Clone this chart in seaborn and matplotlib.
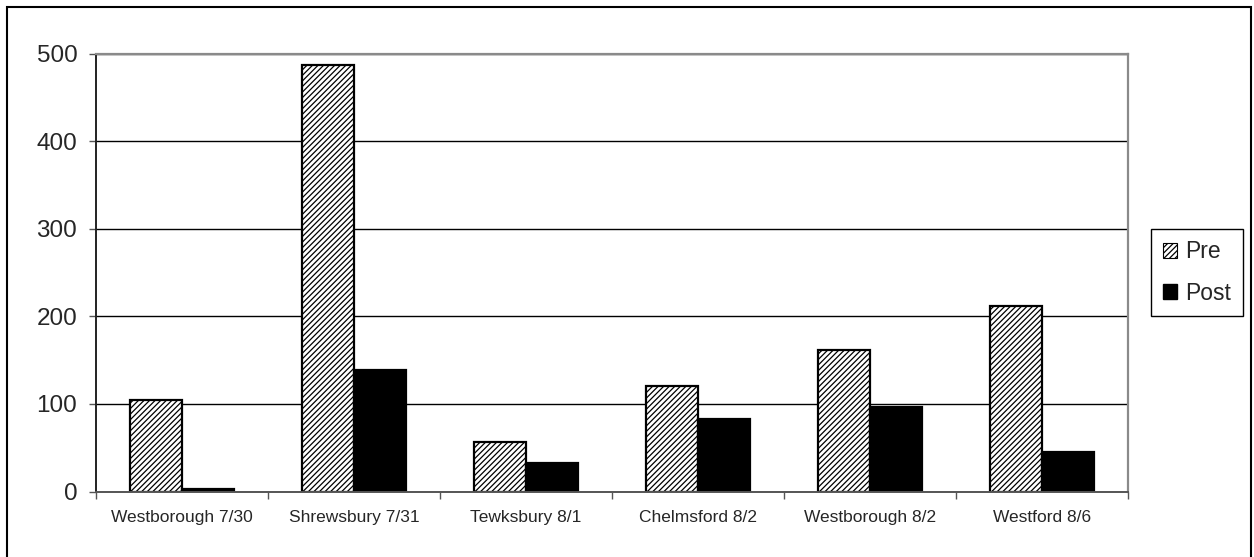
import matplotlib
matplotlib.use("Agg")
import matplotlib.pyplot as plt
from matplotlib.patches import Patch, Rectangle
import pandas as pd
import seaborn as sns

# Counts per site, before and after
sites = ["Westborough 7/30", "Shrewsbury 7/31", "Tewksbury 8/1",
         "Chelmsford 8/2", "Westborough 8/2", "Westford 8/6"]
pre_counts = [104, 487, 56, 120, 162, 212]
post_counts = [3, 139, 32, 83, 96, 45]
y_ticks = [0, 100, 200, 300, 400, 500]
phases = ["Pre", "Post"]

sns.set_style("white")
plt.rcParams["font.family"] = ["Liberation Sans", "DejaVu Sans"]
plt.rcParams["hatch.linewidth"] = 0.9
plt.rcParams["hatch.color"] = "black"

df = pd.DataFrame({
    "site": sites * 2,
    "phase": ["Pre"] * len(sites) + ["Post"] * len(sites),
    "count": pre_counts + post_counts,
})

W, H = 1254, 557
fig = plt.figure(figsize=(W / 100, H / 100), dpi=100)
ax = fig.add_axes([96 / W, 1 - 491.5 / H, (1128 - 96) / W, (491.5 - 53.5) / H])

sns.barplot(data=df, x="site", y="count", hue="phase", hue_order=phases,
            palette={"Pre": "white", "Post": "black"}, saturation=1,
            width=0.6, edgecolor="black", linewidth=1.6, legend=False, ax=ax)

for bar in ax.containers[0]:
    bar.set_hatch("//////")

ax.set_xlim(-0.5, len(sites) - 0.5)
ax.set_ylim(0, 500)
ax.set_yticks(y_ticks)
ax.set_xlabel("")
ax.set_ylabel("")

# horizontal gridlines
ax.yaxis.grid(True, color="black", linewidth=1.0)
ax.xaxis.grid(False)
ax.set_axisbelow(True)

# spines: dark left axis, grey plot-area frame
ax.spines["left"].set_color("#222222")
ax.spines["left"].set_linewidth(1.4)
ax.spines["bottom"].set_color("#555555")
ax.spines["bottom"].set_linewidth(1.4)
for side in ("top", "right"):
    ax.spines[side].set_color("#8a8a8a")
    ax.spines[side].set_linewidth(1.6)

ax.tick_params(axis="y", which="major", direction="out", length=5, width=1,
               color="#555555", pad=8.5, labelsize=17.5, left=True)
# category labels without ticks; ticks on category boundaries
ax.set_xticks(range(len(sites)))
ax.set_xticklabels(sites)
ax.set_xticks([i - 0.5 for i in range(len(sites) + 1)], minor=True)
ax.tick_params(axis="x", which="major", length=0, pad=13, labelsize=12.5)
ax.tick_params(axis="x", which="minor", direction="out", length=5, width=1,
               color="#555555", bottom=True)

handles = [Patch(facecolor="white", edgecolor="black", hatch="//////", linewidth=0.8),
           Patch(facecolor="black", edgecolor="black")]
leg = fig.legend(handles, phases, loc="center",
                 bbox_to_anchor=((1153 + 1241) / 2 / W, 1 - (228 + 317) / 2 / H),
                 fontsize=16.5, frameon=True, fancybox=False, framealpha=1,
                 edgecolor="black", handlelength=0.65, handleheight=0.65,
                 handletextpad=0.35, labelspacing=0.8, borderpad=0.5,
                 borderaxespad=0)
leg.get_frame().set_linewidth(1.0)

# outer chart-area border
fig.patches.append(Rectangle((7 / W, -0.02), (1251 - 7) / W, 1 - 7 / H + 0.02,
                             transform=fig.transFigure, fill=False,
                             edgecolor="black", linewidth=1.5))

fig.savefig("out.png", dpi=100, facecolor="white")
